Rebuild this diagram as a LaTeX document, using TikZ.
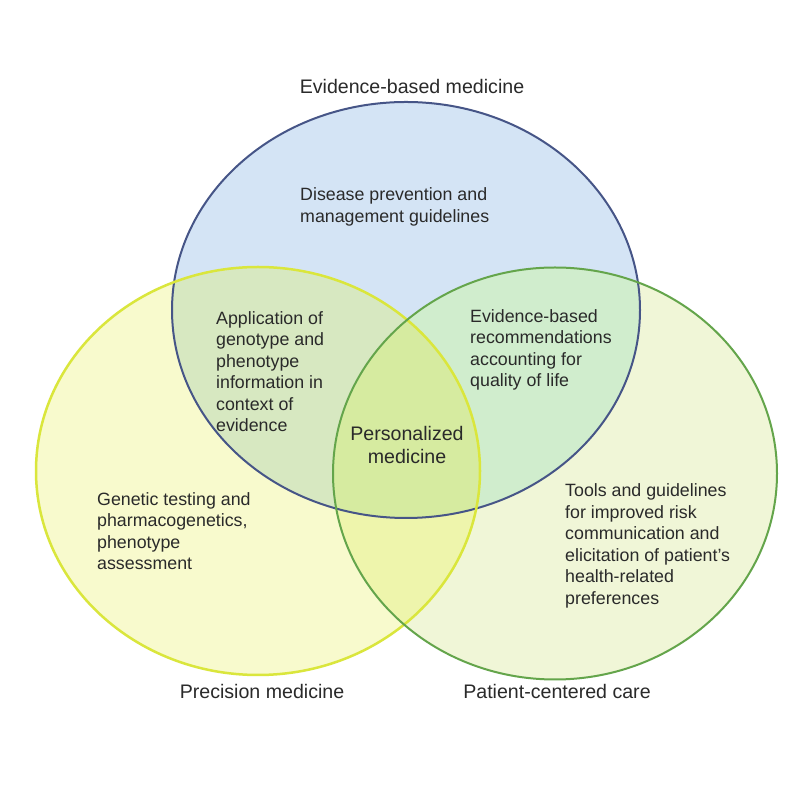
\documentclass[tikz,border=0pt]{standalone}
\usepackage{fontspec}
\setmainfont{Liberation Sans}

\definecolor{textgray}{RGB}{42,42,42}
\definecolor{ebmline}{RGB}{70,85,135}
\definecolor{precline}{RGB}{218,230,60}
\definecolor{pccline}{RGB}{100,165,75}
\definecolor{ebmfill}{RGB}{212,228,245}
\definecolor{precfill}{RGB}{248,250,205}
\definecolor{pccfill}{RGB}{240,246,215}
\definecolor{ebmprec}{RGB}{215,232,193}
\definecolor{ebmpcc}{RGB}{208,237,205}
\definecolor{precpcc}{RGB}{238,245,172}
\definecolor{allthree}{RGB}{214,235,160}

\newcommand{\ebmpath}{(406,490) ellipse [x radius=234, y radius=208]}
\newcommand{\precpath}{(258,329) ellipse [x radius=222, y radius=204]}
\newcommand{\pccpath}{(555,326.5) ellipse [x radius=222, y radius=206]}

\begin{document}
\begin{tikzpicture}[
    x=1pt, y=1pt,
    areatext/.style={font=\fontsize{17.8}{21.5}\selectfont, text=textgray,
                     align=left, anchor=west, inner sep=0pt},
    heading/.style={font=\fontsize{19.6}{22.5}\selectfont, text=textgray, inner sep=0pt}
]
\fill[white] (0,0) rectangle (800,800);
\useasboundingbox (0,0) rectangle (800,800);

% single sets
\fill[ebmfill] \ebmpath;
\fill[precfill] \precpath;
\fill[pccfill] \pccpath;
% pairwise overlaps
\begin{scope}
  \clip \ebmpath;
  \fill[ebmprec] \precpath;
  \fill[ebmpcc] \pccpath;
\end{scope}
\begin{scope}
  \clip \precpath;
  \fill[precpcc] \pccpath;
\end{scope}
% centre
\begin{scope}
  \clip \ebmpath;
  \clip \precpath;
  \fill[allthree] \pccpath;
\end{scope}
% outlines
\draw[ebmline, line width=2pt] \ebmpath;
\draw[precline, line width=2.5pt] \precpath;
\draw[pccline, line width=2pt] \pccpath;

% set names
\node[heading] (ebm) at (412,713) {Evidence-based medicine};
\node[heading] (prec) at (262,109) {Precision medicine};
\node[heading] (pcc) at (557,109) {Patient-centered care};

% region texts
\node[areatext] (guide) at (300,593) {Disease prevention and\\management guidelines};
\node[areatext] (geno) at (216,428.5) {Application of\\genotype and\\phenotype\\information in\\context of\\evidence};
\node[areatext] (qol) at (470,450) {Evidence-based\\recommendations\\accounting for\\quality of life};
\node[areatext] (gene) at (97,269) {Genetic testing and\\pharmacogenetics,\\phenotype\\assessment};
\node[areatext] (tools) at (565,254) {Tools and guidelines\\for improved risk\\communication and\\elicitation of patient's\\health-related\\preferences};
\node[heading, align=center] (pers) at (407,355) {Personalized\\medicine};
\end{tikzpicture}
\end{document}
